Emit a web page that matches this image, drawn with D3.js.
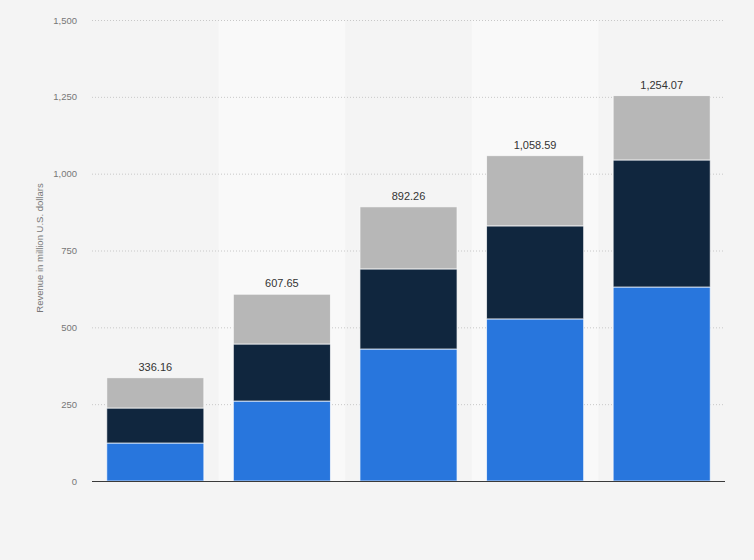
<!DOCTYPE html>
<html>
<head>
<meta charset="utf-8">
<script src="https://cdn.jsdelivr.net/npm/d3@7"></script>
<style>
  body { margin: 0; background: #f4f4f4; }
  svg { display: block; font-family: "Liberation Sans", Arial, sans-serif; }
  .tick text { fill: #777; font-size: 9.5px; }
  .bar-total { fill: #333; font-size: 11px; }
  .y-title { fill: #777; font-size: 9.5px; }
</style>
</head>
<body>
<script>
    // values (million U.S. dollars)
    const categories = ['A', 'B', 'C', 'D', 'E'];
    const series_blue = [123.6, 260.1, 429.5, 527.4, 631.2];
    const series_dark = [113.9, 185.7, 260.6, 302.8, 413.4];
    const series_gray = [98.66, 161.85, 202.16, 228.39, 209.47];
    const totals = [336.16, 607.65, 892.26, 1058.59, 1254.07];
    const y_ticks = [0, 250, 500, 750, 1000, 1250, 1500];

    const chart_width = 754;
    const chart_height = 560;
    const margin = {left: 92, right: 29, top: 20, bottom: 79};

    const svg = d3.select('body').append('svg').attr('width', chart_width).attr('height', chart_height);

    const x = d3.scaleBand()
        .domain(categories)
        .range([margin.left, chart_width - margin.right])
        .paddingInner(0.233)
        .paddingOuter(0.1165);
    const y = d3.scaleLinear()
        .domain([0, 1500])
        .range([chart_height - margin.bottom, margin.top]);

    // lighter background for every other column
    const half_gap = x.step() * x.paddingInner() / 2;
    svg.append('g').selectAll('rect')
        .data(categories.filter((d, i) => i % 2 === 1))
        .enter()
        .append('rect')
          .attr('x', d => x(d) - half_gap)
          .attr('width', x.bandwidth() + 2 * half_gap)
          .attr('y', y(1500))
          .attr('height', y(0) - y(1500))
          .attr('fill', '#f9f9f9');

    // y axis with dotted grid lines
    const yAxis = svg.append('g')
        .attr('transform', `translate(${margin.left},0)`)
        .call(d3.axisLeft(y).tickValues(y_ticks).tickFormat(d3.format(',')).tickSize(-(chart_width - margin.left - margin.right)).tickPadding(15));
    yAxis.select('.domain').remove();
    yAxis.selectAll('.tick line')
        .attr('stroke', '#c8c8c8')
        .attr('stroke-dasharray', '1,2');
    yAxis.selectAll('.tick').filter(d => d === 0).select('line').remove();

    svg.append('text')
        .attr('class', 'y-title')
        .attr('transform', 'translate(43, 248) rotate(-90)')
        .attr('text-anchor', 'middle')
        .text('Revenue in million U.S. dollars');

    // stacked bars
    const rows = categories.map((c, i) => ({cat: c, blue: series_blue[i], dark: series_dark[i], gray: series_gray[i]}));
    const stack = d3.stack().keys(['blue', 'dark', 'gray'])(rows);
    const colors = {blue: '#2876dd', dark: '#10263e', gray: '#b7b7b7'};

    svg.append('g').selectAll('g')
        .data(stack)
        .enter()
        .append('g')
          .attr('fill', s => colors[s.key])
        .selectAll('rect')
        .data(s => s)
        .enter()
        .append('rect')
          .attr('x', d => x(d.data.cat))
          .attr('width', x.bandwidth())
          .attr('y', d => y(d[1]))
          .attr('height', d => y(d[0]) - y(d[1]))
          .attr('stroke', 'rgba(255,255,255,0.7)')
          .attr('stroke-width', 1);

    // totals above bars
    svg.append('g').selectAll('text')
        .data(categories)
        .enter()
        .append('text')
          .attr('class', 'bar-total')
          .attr('x', d => x(d) + x.bandwidth() / 2)
          .attr('y', (d, i) => y(totals[i]) - 7)
          .attr('text-anchor', 'middle')
          .text((d, i) => d3.format(',.2f')(totals[i]));

    // baseline
    svg.append('line')
        .attr('x1', margin.left)
        .attr('x2', chart_width - margin.right)
        .attr('y1', y(0) + 0.5)
        .attr('y2', y(0) + 0.5)
        .attr('stroke', '#3a3a3a')
        .attr('stroke-width', 1);
</script>
</body>
</html>
